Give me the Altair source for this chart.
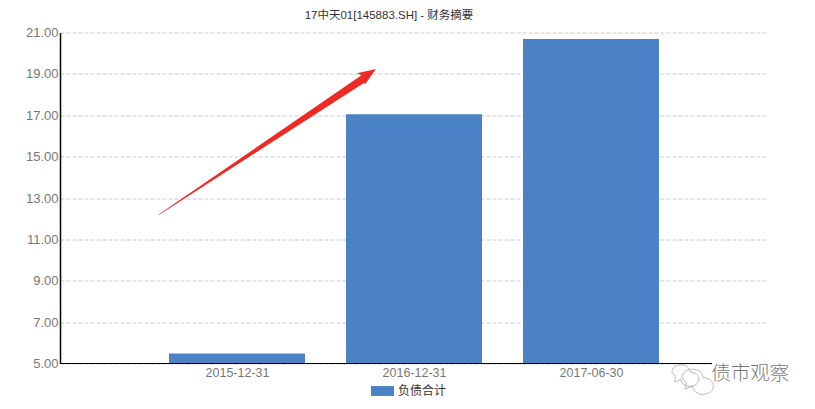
import altair as alt
import pandas as pd

# chart values
dates = ['2015-12-31', '2016-12-31', '2017-06-30']
debt = [5.48, 17.05, 20.68]
y_ticks = [5, 7, 9, 11, 13, 15, 17, 19, 21]
x_domain = [' ', '2015-12-31', '2016-12-31', '2017-06-30', '  ']

# annotations, x in category steps, y in axis units
arrow_x = [0.56, 1.72]
arrow_y = [12.2, 18.8]
arrow_w = [0.6, 8]
head_x = [1.735]
head_y = [18.95]
baseline_x = [0]
baseline_x2 = [3.684]
mask_x = [3.684]
mask_x2 = [4.1]
mark_text_x = [3.9]
mark_text_y = [4.5]
bubble_x = [3.508, 3.573]
bubble_y = [4.59, 4.32]
bubble_s = [324, 441]

FONT = 'Liberation Sans, Noto Sans CJK SC'
RED = '#EE2A24'
GREY = '#7a7a7a'

step_scale = alt.Scale(domain=[0, 4], nice=False, zero=False)
val_scale = alt.Scale(domain=[5, 21], nice=False, zero=False)

bars = alt.Chart(pd.DataFrame({'date': dates, 'debt': debt, 'base': 5, 'name': '负债合计'})).mark_bar(size=136).encode(
    alt.X('date:N',
          scale=alt.Scale(type='point', domain=x_domain, padding=0),
          axis=alt.Axis(values=dates, title=None, domain=False, ticks=False, grid=False, labelAngle=0,
                        labelFont=FONT, labelFontSize=12.5, labelColor='#777777', labelPadding=3)),
    alt.Y('debt:Q', scale=val_scale,
          axis=alt.Axis(values=y_ticks, format='.2f', title=None, grid=True, gridColor='#bdbdbd', gridDash=[4, 2],
                        gridWidth=0.8, domainColor='#000000', domainWidth=1.5, ticks=False,
                        labelFont=FONT, labelFontSize=13, labelColor='#777777', labelPadding=2)),
    alt.Y2('base:Q'),
    alt.Color('name:N', scale=alt.Scale(range=['#4A82C5']),
              legend=alt.Legend(title=None, orient='none', legendX=311, legendY=347, symbolType='M-1,-0.43H1V0.43H-1Z',
                                symbolSize=529, symbolStrokeWidth=0, labelFont=FONT, labelFontSize=12,
                                labelColor='#333333', labelOffset=4)),
)

mask = alt.Chart(pd.DataFrame({'x': mask_x, 'x2': mask_x2, 'y': [4.95], 'y2': [5.05]})).mark_rect(color='white').encode(
    alt.X('x:Q', scale=step_scale, axis=None), alt.X2('x2:Q'),
    alt.Y('y:Q', scale=val_scale), alt.Y2('y2:Q'),
)

baseline = alt.Chart(pd.DataFrame({'x': baseline_x, 'x2': baseline_x2, 'y': [5]})).mark_rule(color='#000000', strokeWidth=1.2).encode(
    alt.X('x:Q', scale=step_scale, axis=None), alt.X2('x2:Q'),
    alt.Y('y:Q', scale=val_scale),
)

# red arrow
shaft = alt.Chart(pd.DataFrame({'x': arrow_x, 'y': arrow_y, 'w': arrow_w})).mark_trail(color=RED).encode(
    alt.X('x:Q', scale=step_scale, axis=None),
    alt.Y('y:Q', scale=val_scale),
    alt.Size('w:Q', scale=None, legend=None),
)
head = alt.Chart(pd.DataFrame({'x': head_x, 'y': head_y})).mark_point(
    shape='M0,-1L0.65,0.7L0,0.3L-0.65,0.7Z', filled=True, color=RED, opacity=1, size=450, angle=56).encode(
    alt.X('x:Q', scale=step_scale, axis=None),
    alt.Y('y:Q', scale=val_scale),
)

# watermark
watermark = alt.Chart(pd.DataFrame({'x': mark_text_x, 'y': mark_text_y, 't': ['债市观察']})).mark_text(
    font='Noto Sans CJK SC', fontSize=19.5, color=GREY, fontWeight=300).encode(
    alt.X('x:Q', scale=step_scale, axis=None),
    alt.Y('y:Q', scale=val_scale),
    alt.Text('t:N'),
)
bubbles = alt.Chart(pd.DataFrame({'x': bubble_x, 'y': bubble_y, 's': bubble_s})).mark_point(
    shape='M-1,0A1,0.8 0 1 1 1,0A1,0.8 0 1 1 0,0.8L-0.7,1.1L-0.6,0.5Z', color='#aaaaaa', strokeWidth=0.8, opacity=1).encode(
    alt.X('x:Q', scale=step_scale, axis=None),
    alt.Y('y:Q', scale=val_scale),
    alt.Size('s:Q', scale=None, legend=None),
)

chart = alt.layer(bars, mask, baseline, shaft, head, watermark, bubbles).resolve_scale(
    x='independent', y='shared', size='independent'
).properties(
    width=708, height=331,
    title=alt.TitleParams('17中天01[145883.SH] - 财务摘要', font=FONT, fontSize=11.5, fontWeight='normal',
                          color='#333333', anchor='middle', dx=-25, offset=5),
    autosize=alt.AutoSizeParams(type='none'),
    padding={'left': 52, 'top': 24.5, 'right': 39, 'bottom': 37},
).configure_view(stroke=None)

chart.save('out.html', embed_options={'renderer': 'svg', 'actions': False})
